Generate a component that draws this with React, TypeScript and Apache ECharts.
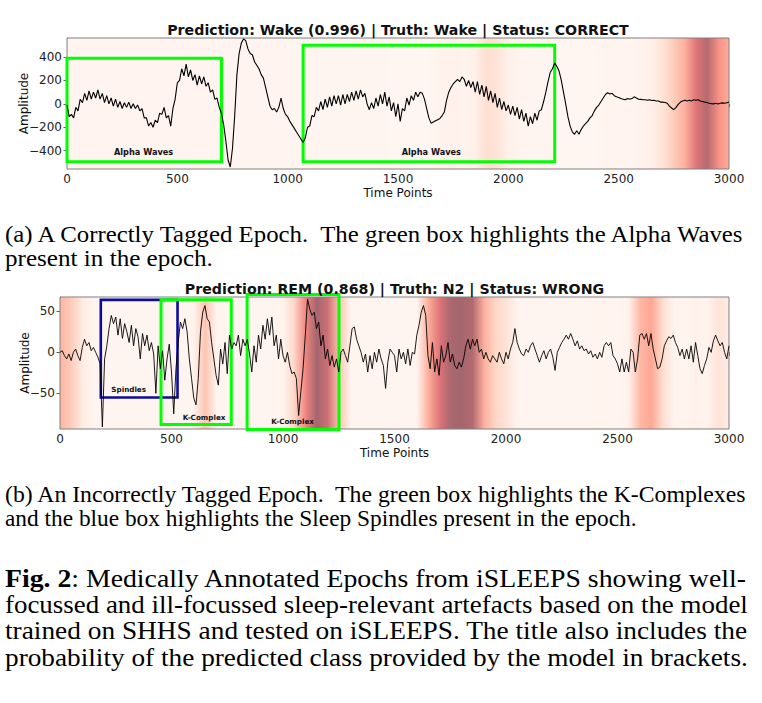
import React, { useEffect, useRef } from "react";
import * as echarts from "echarts";

// ---------- DATA ----------
const X_STEP = 10; // time points between consecutive samples
const topSignal = [
  -10, -110, -90, -120, -30, -60, 40, 10, 90, 30,
  110, 40, 100, 50, 120, 40, 90, 10, 70, 0,
  50, -20, 40, -30, 20, -40, 10, -30, 15, -40,
  0, -40, -10, -60, -40, -120, -120, -190, -160, -200,
  -140, -160, -80, -90, -30, -120, -100, -190, -40, 40,
  180, 200, 300, 240, 340, 230, 290, 200, 250, 160,
  240, 170, 230, 150, 180, 100, 120, 40, 50, -30,
  -80, -180, -320, -480, -540, -380, -100, 250, 430, 520,
  555, 540, 470, 430, 420, 360, 330, 300, 250, 220,
  140, 60, -20, -50, -40, -70, -30, 50, -40, -90,
  -110, -150, -180, -210, -240, -270, -300, -330, -290, -200,
  -190, -100, -110, -30, -60, 20, -50, 40, -30, 60,
  -20, 70, 0, 70, -10, 80, 0, 80, 20, 100,
  30, 110, 40, 120, 60, 90, 0, -50, 10, -40,
  50, -20, 80, 0, 100, -20, 60, -60, 10, -110,
  0, -150, -40, -60, 50, -10, 70, 30, 100, 60,
  100, 90, 40, -40, -120, -165, -155, -145, -135, -125,
  -100, -70, 30, 100, 140, 170, 190, 210, 190, 230,
  210, 150, 200, 140, 190, 100, 190, 80, 160, 60,
  150, 30, 110, 10, 90, -30, 50, -50, 20, -60,
  -10, -90, -20, -100, -30, -130, -50, -150, -80, -190,
  -110, -170, -80, -140, -60, -50, 20, 100, 190, 270,
  300, 350, 320, 280, 200, 100, 0, -110, -190, -240,
  -260, -230, -260, -220, -190, -170, -150, -120, -100, -60,
  -30, -10, 20, 50, 80, 95, 85, 90, 70, 60,
  55, 45, 40, 35, 45, 40, 45, 60, 50, 40,
  38, 35, 35, 30, 35, 28, 30, 25, 25, 15,
  15, 12, 5, -20, -35, -50, -30, -5, 15, 25,
  30, 25, 30, 25, 35, 30, 35, 25, 20, 15,
  12, 5, 2, 0, 5, -2, 5, 8, 5, 10,
  15,
];
const botSignal = [
  0, 2, -4, -8, -2, -10, 0, 4, -4, -10,
  6, 16, 8, 12, 2, 6, 0, -6, -14, -91,
  -8, 8, 29, 45, 35, 43, 21, 41, 17, 35,
  25, 12, 33, 8, 29, 19, -8, 23, 8, 21,
  2, 12, -2, -50, 8, -20, 2, -34, -8, 10,
  -24, -75, -20, 12, 37, 29, 41, 25, -8, -32,
  -56, -64, -32, 25, 49, 57, 41, 37, 12, -8,
  -28, -40, 4, -14, 12, -26, 21, 4, 12, 8,
  21, -4, 16, 8, 16, -2, -24, 8, -12, 21,
  4, 33, 16, 41, 21, 43, 8, 21, -8, 16,
  -4, -12, 0, -16, -26, -24, -32, -77, -48, -20,
  21, 65, 53, 45, 49, 29, 37, 8, 21, -8,
  4, -16, -4, -18, -8, -24, 0, 4, -4, -12,
  8, 29, 31, 16, 8, 0, -12, -2, -24, -4,
  -20, 0, -12, 4, -8, -16, -44, -12, 4, 0,
  -4, -24, 4, -8, 0, -14, 4, -16, 0, -2,
  21, 33, 49, 57, 45, -4, -20, 12, -24, -8,
  -28, 8, -12, -4, 12, -12, -2, -16, -20, -12,
  -18, -8, 8, 16, 4, 16, 8, 16, 0, 4,
  -8, 0, -8, -12, -4, -8, -12, 0, -8, -14,
  0, -8, 4, 12, 29, 12, 4, -2, -4, 4,
  0, 8, 12, 4, -4, -12, -4, 2, -8, 0,
  4, -6, -22, 0, 6, 12, 16, 21, 16, 23,
  16, 8, 14, 4, 8, 2, 4, -2, 2, -6,
  -2, -8, 0, -6, 8, 12, 8, 12, -4, -8,
  -14, -24, -8, -24, -12, -24, 4, 0, -24, -8,
  21, 23, 16, 23, 8, 23, 4, -8, -20, -18,
  -8, 8, 14, 19, 17, 21, 12, 6, -4, 4,
  -8, 4, -8, 8, -12, 12, -4, -20, -26, -16,
  -8, 6, 0, 14, 21, 14, 8, 12, 0, -8,
  8,
];

const ATT_STEP = 50; // time points between attention samples
const topAttention = [
  0.05, 0.05, 0.05, 0.05, 0.05, 0.05, 0.05, 0.05, 0.05, 0.05,
  0.05, 0.05, 0.05, 0.05, 0.05, 0.05, 0.05, 0.05, 0.05, 0.05,
  0.04, 0.04, 0.04, 0.04, 0.04, 0.04, 0.04, 0.04, 0.04, 0.04,
  0.03, 0.03, 0.03, 0.04, 0.07, 0.08, 0.06, 0.1, 0.2, 0.18,
  0.08, 0.05, 0.04, 0.04, 0.04, 0.03, 0.03, 0.03, 0.04, 0.06,
  0.05, 0.05, 0.07, 0.1, 0.18, 0.3, 0.45, 0.75, 0.95, 0.6,
  0.45,
];
const botAttention = [
  0.42, 0.3, 0.13, 0.05, 0.04, 0.04, 0.04, 0.04, 0.04, 0.04,
  0.04, 0.04, 0.06, 0.35, 0.05, 0.04, 0.04, 0.04, 0.04, 0.04,
  0.06, 0.25, 0.65, 1.0, 0.85, 0.35, 0.06, 0.04, 0.04, 0.04,
  0.04, 0.04, 0.05, 0.45, 0.75, 0.98, 1.0, 0.95, 0.45, 0.25,
  0.18, 0.05, 0.04, 0.04, 0.04, 0.04, 0.04, 0.04, 0.06, 0.05,
  0.04, 0.08, 0.4, 0.5, 0.22, 0.06, 0.05, 0.08, 0.05, 0.18,
  0.12,
];

const xTicks = [0, 500, 1000, 1500, 2000, 2500, 3000];
const topYTicks = [-400, -200, 0, 200, 400];
const botYTicks = [-50, 0, 50];
const topYRange = [-557, 563];
const botYRange = [-93.5, 67.5];
const xRange = [0, 3000];

// annotation boxes: [x0, x1, y0, y1] in data units, label anchor [lx, ly]
const topBoxes = [
  { kind: "green", label: "Alpha Waves", x0: 0, x1: 700, y0: -495, y1: 390, lx: 347, ly: -414 },
  { kind: "green", label: "Alpha Waves", x0: 1070, x1: 2210, y0: -495, y1: 500, lx: 1651, ly: -414 },
];
const botBoxes = [
  { kind: "blue", label: "Spindles", x0: 183, x1: 527, y0: -55, y1: 64, lx: 308, ly: -45.8 },
  { kind: "green", label: "K-Complex", x0: 453, x1: 768, y0: -88, y1: 64, lx: 646, ly: -78.9 },
  { kind: "green", label: "K-Complex", x0: 839, x1: 1251, y0: -94, y1: 70.4, lx: 1043, ly: -84.6 },
];

const topTitle = "Prediction: Wake (0.996) | Truth: Wake | Status: CORRECT";
const botTitle = "Prediction: REM (0.868) | Truth: N2 | Status: WRONG";
const yName = "Amplitude";
const xName = "Time Points";

const captionA = [
  "(a) A Correctly Tagged Epoch.  The green box highlights the Alpha Waves",
  "present in the epoch.",
];
const captionB = [
  "(b) An Incorrectly Tagged Epoch.  The green box highlights the K-Complexes",
  "and the blue box highlights the Sleep Spindles present in the epoch.",
];
const figBold = "Fig. 2";
const figCaption = [
  ": Medically Annotated Epochs from iSLEEPS showing well-",
  "focussed and ill-focussed sleep-relevant artefacts based on the model",
  "trained on SHHS and tested on iSLEEPS. The title also includes the",
  "probability of the predicted class provided by the model in brackets.",
];

// ---------- STYLE / LAYOUT ----------
const SANS = "DejaVu Sans";
const SERIF = "Liberation Serif, Times New Roman, Times, serif";
const TOP = { left: 67, top: 38, width: 662, height: 131 };
const BOT = { left: 60, top: 297, width: 669, height: 132 };
const BOX_COLORS: Record<string, string> = { green: "#00ff00", blue: "#0c0c9a" };
const BOX_WIDTH: Record<string, number> = { green: 3, blue: 2.6 };
const TICK_FONT = 12;
const TITLE_FONT = 14.2;
const CAP_SIZE = 22.5;
const FIG_SIZE = 25;

const REDS = [
  [255, 245, 240], [254, 224, 210], [252, 187, 161], [252, 146, 114], [251, 106, 74],
  [239, 59, 44], [203, 24, 29], [165, 15, 21], [103, 0, 13],
];
function reds(v: number) {
  const p = Math.max(0, Math.min(1, v)) * 8;
  const i = Math.min(7, Math.floor(p));
  const f = p - i;
  const c = REDS[i].map((a, k) => a + (REDS[i + 1][k] - a) * f);
  const b = c.map((a) => Math.round(a * 0.6 + 255 * 0.4));
  return `rgb(${b[0]},${b[1]},${b[2]})`;
}

function measure(text: string, font: string) {
  const ctx = document.createElement("canvas").getContext("2d")!;
  ctx.font = font;
  return ctx.measureText(text).width;
}

const minus = (v: number) => String(v).replace("-", "\u2212");

function heatData(att: number[]) {
  const out: number[][] = [];
  for (let i = 0; i < att.length - 1; i++) out.push([i * ATT_STEP, (i + 1) * ATT_STEP, 0, att[i], att[i + 1]]);
  return out;
}

function heatRender(yr: number[]) {
  return (_p: any, api: any) => {
    const p0 = api.coord([api.value(0), yr[1]]);
    const p1 = api.coord([api.value(1), yr[0]]);
    return {
      type: "rect",
      shape: { x: p0[0], y: p0[1], width: p1[0] - p0[0] + 0.6, height: p1[1] - p0[1] },
      style: {
        fill: new echarts.graphic.LinearGradient(0, 0, 1, 0, [
          { offset: 0, color: reds(api.value(3)) },
          { offset: 1, color: reds(api.value(4)) },
        ]),
      },
    };
  };
}

function boxRender(boxes: any[], fontSize: number) {
  return (p: any, api: any) => {
    const b = boxes[p.dataIndex];
    const p0 = api.coord([api.value(0), api.value(3)]);
    const p1 = api.coord([api.value(1), api.value(2)]);
    const pl = api.coord([api.value(4), api.value(5)]);
    return {
      type: "group",
      children: [
        {
          type: "rect",
          shape: { x: p0[0], y: p0[1], width: p1[0] - p0[0], height: p1[1] - p0[1] },
          style: { fill: "none", stroke: BOX_COLORS[b.kind], lineWidth: BOX_WIDTH[b.kind] },
        },
        {
          type: "text",
          x: pl[0],
          y: pl[1],
          style: {
            text: b.label,
            fontSize,
            fontWeight: "bold",
            fontFamily: SANS,
            fill: "#111",
            align: "center",
            verticalAlign: "middle",
          },
        },
      ],
    };
  };
}

function axes(grid: number, yr: number[], yTicks: number[]) {
  const tick = { show: true, length: 3.5, lineStyle: { color: "#333", width: 0.8 } };
  const label = { fontSize: TICK_FONT, color: "#222", fontFamily: SANS };
  return {
    x: {
      type: "value", gridIndex: grid, min: xRange[0], max: xRange[1], interval: 500,
      axisLine: { show: true, lineStyle: { color: "#808080", width: 1 } },
      axisTick: { ...tick, customValues: xTicks },
      axisLabel: { ...label, margin: 4, customValues: xTicks, formatter: (v: number) => String(v) },
      splitLine: { show: false },
    },
    y: {
      type: "value", gridIndex: grid, min: yr[0], max: yr[1],
      axisLine: { show: true, lineStyle: { color: "#808080", width: 1 } },
      axisTick: { ...tick, customValues: yTicks },
      axisLabel: { ...label, margin: 5, customValues: yTicks, formatter: (v: number) => minus(v) },
      splitLine: { show: false },
    },
  };
}

function captionElements() {
  const els: any[] = [];
  const lines: { text: string; y: number; size: number; target: number; bold?: string }[] = [
    { text: captionA[0], y: 234, size: CAP_SIZE, target: 743 },
    { text: captionA[1], y: 258.3, size: CAP_SIZE, target: 208 },
    { text: captionB[0], y: 494.5, size: CAP_SIZE, target: 743 },
    { text: captionB[1], y: 518.8, size: CAP_SIZE, target: 632 },
    { text: figCaption[0], y: 578, size: FIG_SIZE, target: 743, bold: figBold },
    { text: figCaption[1], y: 604.7, size: FIG_SIZE, target: 743 },
    { text: figCaption[2], y: 631.3, size: FIG_SIZE, target: 743 },
    { text: figCaption[3], y: 658, size: FIG_SIZE, target: 743 },
  ];
  for (const l of lines) {
    const normal = `${l.size}px ${SERIF}`;
    const boldF = `bold ${l.size}px ${SERIF}`;
    let w = measure(l.text, normal);
    if (l.bold) w += measure(l.bold, boldF);
    const sx = w > 0 ? l.target / w : 1;
    els.push({
      type: "text",
      x: 5,
      y: l.y,
      scaleX: sx,
      z: 20,
      silent: true,
      style: {
        text: l.bold ? `{b|${l.bold}}${l.text}` : l.text,
        fontSize: l.size,
        fontFamily: SERIF,
        fill: "#000",
        align: "left",
        verticalAlign: "middle",
        rich: l.bold ? { b: { fontSize: l.size, fontFamily: SERIF, fontWeight: "bold", fill: "#000" } } : undefined,
      },
    });
  }
  return els;
}

function buildOption() {
  const a0 = axes(0, topYRange, topYTicks);
  const a1 = axes(1, botYRange, botYTicks);
  const textEl = (text: string, x: number, y: number, size: number, weight: string, rot = 0) => ({
    type: "text", x, y, rotation: rot, z: 20, silent: true,
    style: { text, fontSize: size, fontWeight: weight, fontFamily: SANS, fill: "#111", align: "center", verticalAlign: "middle" },
  });
  const frame = (g: any) => ({
    type: "rect", z: 6, silent: true,
    shape: { x: g.left, y: g.top, width: g.width, height: g.height },
    style: { fill: "none", stroke: "#808080", lineWidth: 1 },
  });
  return {
    animation: false,
    backgroundColor: "#ffffff",
    grid: [
      { ...TOP, containLabel: false },
      { ...BOT, containLabel: false },
    ],
    xAxis: [a0.x, a1.x],
    yAxis: [a0.y, a1.y],
    series: [
      {
        type: "custom", xAxisIndex: 0, yAxisIndex: 0, z: 1, silent: true, clip: true,
        renderItem: heatRender(topYRange), encode: { x: [0, 1], y: 2 }, data: heatData(topAttention),
      },
      {
        type: "custom", xAxisIndex: 1, yAxisIndex: 1, z: 1, silent: true, clip: true,
        renderItem: heatRender(botYRange), encode: { x: [0, 1], y: 2 }, data: heatData(botAttention),
      },
      {
        type: "custom", xAxisIndex: 0, yAxisIndex: 0, z: 8, silent: true, clip: false,
        renderItem: boxRender(topBoxes, 8.2), encode: { x: [0, 1], y: [2, 3] },
        data: topBoxes.map((b) => [b.x0, b.x1, b.y0, b.y1, b.lx, b.ly]),
      },
      {
        type: "custom", xAxisIndex: 1, yAxisIndex: 1, z: 8, silent: true, clip: false,
        renderItem: boxRender(botBoxes, 7.2), encode: { x: [0, 1], y: [2, 3] },
        data: botBoxes.map((b) => [b.x0, b.x1, b.y0, b.y1, b.lx, b.ly]),
      },
      {
        type: "line", xAxisIndex: 0, yAxisIndex: 0, z: 10, silent: true, showSymbol: false, symbol: "none",
        lineStyle: { color: "#000", width: 1.1 }, data: topSignal.map((v, i) => [i * X_STEP, v]),
      },
      {
        type: "line", xAxisIndex: 1, yAxisIndex: 1, z: 10, silent: true, showSymbol: false, symbol: "none",
        lineStyle: { color: "#000", width: 0.9 }, data: botSignal.map((v, i) => [i * X_STEP, v]),
      },
    ],
    graphic: [
      frame(TOP),
      frame(BOT),
      textEl(topTitle, TOP.left + TOP.width / 2, 30, TITLE_FONT, "bold"),
      textEl(botTitle, BOT.left + BOT.width / 2, 288.5, TITLE_FONT, "bold"),
      textEl(yName, 24, TOP.top + TOP.height / 2, 12, "normal", Math.PI / 2),
      textEl(yName, 24.5, BOT.top + BOT.height / 2, 12, "normal", Math.PI / 2),
      textEl(xName, TOP.left + TOP.width / 2, 193, 12, "normal"),
      textEl(xName, BOT.left + BOT.width / 2, 453, 12, "normal"),
      ...captionElements(),
    ],
  };
}

export default function App() {
  const ref = useRef<HTMLDivElement>(null);
  useEffect(() => {
    const chart = echarts.init(ref.current!, null, { renderer: "svg" });
    chart.setOption(buildOption() as any);
    return () => chart.dispose();
  }, []);
  return (
    <div
      ref={ref}
      style={{ position: "absolute", left: 0, top: 0, width: 762, height: 703, background: "#fff" }}
    />
  );
}
